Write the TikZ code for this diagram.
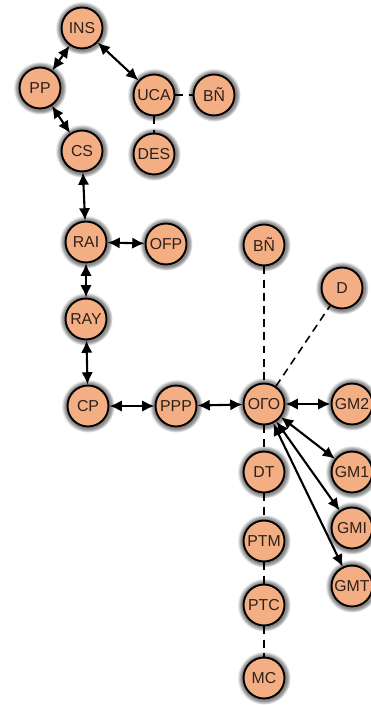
\documentclass[tikz,border=0pt]{standalone}
\usepackage{fontspec}
\setmainfont{Liberation Sans}
\usetikzlibrary{arrows.meta,shadows}
\definecolor{nodefill}{HTML}{F3AE84}
\definecolor{nodetext}{HTML}{2E2018}

\begin{document}
\begin{tikzpicture}[
  x=0.02cm,
  y=-0.02cm,
  line join=round,
  state/.style={circle,draw=black,line width=1.1pt,fill=nodefill,
    minimum size=0.82cm,inner sep=0pt,text=nodetext,
    font=\fontsize{9}{10}\selectfont,
    circular glow={fill=black!45,shadow scale=1.3}},
  link/.style={draw=black,line width=1.2pt,
    {Latex[length=7pt,width=6.5pt]}-{Latex[length=7pt,width=6.5pt]}},
  weak/.style={draw=black,line width=0.9pt,dash pattern=on 4.5pt off 3pt}
]
  \useasboundingbox (0,0) rectangle (371,705);

  % upper cluster
  \node[state] (ins) at (82,28) {INS};
  \node[state] (pp) at (40,88) {PP};
  \node[state] (uca) at (154,95) {UCA};
  \node[state] (bn1) at (214,95) {BÑ};
  \node[state] (cs) at (82,151) {CS};
  \node[state] (des) at (154,154) {DES};

  % left column
  \node[state] (rai) at (86,242) {RAI};
  \node[state] (ofp) at (166,244) {OFP};
  \node[state] (ray) at (86,319) {RAY};
  \node[state] (cp) at (88,406) {CP};
  \node[state] (ppp) at (176,406) {PPP};

  % central hub and its neighbours
  \node[state] (ogo) at (264,404) {ОГО};
  \node[state] (bn2) at (264,245) {BÑ};
  \node[state] (d) at (342,288) {D};
  \node[state] (gm2) at (352,404) {GM2};
  \node[state] (gm1) at (352,472) {GM1};
  \node[state] (gmi) at (352,528) {GMI};
  \node[state] (gmt) at (352,586) {GMT};
  \node[state] (dt) at (264,472) {DT};
  \node[state] (ptm) at (264,541) {PTM};
  \node[state] (ptc) at (264,605) {PTC};
  \node[state] (mc) at (264,678) {MC};

  % two-way links
  \draw[link] (ins) -- (pp);
  \draw[link] (ins) -- (uca);
  \draw[link] (pp) -- (cs);
  \draw[link] (cs) -- (rai);
  \draw[link] (rai) -- (ofp);
  \draw[link] (rai) -- (ray);
  \draw[link] (ray) -- (cp);
  \draw[link] (cp) -- (ppp);
  \draw[link] (ppp) -- (ogo);
  \draw[link] (ogo) -- (gm2);
  \draw[link] (ogo) -- (gm1);
  \draw[link] (ogo) -- (gmi);
  \draw[link] (ogo) -- (gmt);

  % dashed links
  \draw[weak] (uca) -- (bn1);
  \draw[weak] (uca) -- (des);
  \draw[weak] (bn2) -- (ogo);
  \draw[weak] (ogo) -- (d);
  \draw[weak] (ogo) -- (dt);
  \draw[weak] (dt) -- (ptm);
  \draw[weak] (ptm) -- (ptc);
  \draw[weak] (ptc) -- (mc);
\end{tikzpicture}
\end{document}
